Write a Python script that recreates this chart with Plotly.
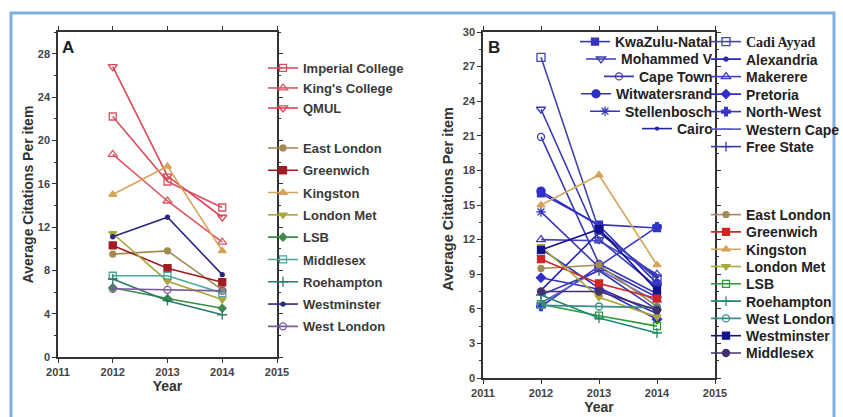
import plotly.graph_objects as go

W, H = 843, 417

# ---------------- data ----------------
years = [2012, 2013, 2014]

# Panel A (UK, incl. Russell group)
imperial_college = [22.2, 16.2, 13.8]
kings_college = [18.7, 14.4, 10.6]
qmul = [26.8, 16.7, 12.9]
east_london = [9.5, 9.8, 6.2]
greenwich = [10.3, 8.2, 6.9]
kingston = [15.0, 17.6, 9.8]
london_met = [11.4, 7.0, 5.3]
lsb = [6.4, 5.4, 4.5]
middlesex = [7.5, 7.5, 5.9]
roehampton = [7.2, 5.2, 3.9]
westminster = [11.1, 12.9, 7.6]
west_london = [6.3, 6.2, 6.1]

# Panel B (African universities)
kwazulu_natal = [16.0, 13.3, 13.0]
mohammed_v = [23.3, 12.0, 7.9]
cape_town = [20.9, 9.9, 7.3]
witwatersrand = [16.2, 13.2, 8.2]
stellenbosch = [14.4, 9.6, 7.0]
cairo = [7.6, 12.6, 8.8]
cadi_ayyad = [27.8, 12.8, 8.6]
alexandria = [11.2, 7.8, 5.6]
makerere = [12.0, 11.9, 9.0]
pretoria = [8.7, 7.7, 5.1]
north_west = [6.2, 9.7, 13.1]
western_cape = [6.5, 9.4, 6.6]
free_state = [7.2, 9.3, 5.9]

x_ticks = [2011, 2012, 2013, 2014, 2015]
a_y_ticks = [0, 4, 8, 12, 16, 20, 24, 28]
b_y_ticks = [0, 3, 6, 9, 12, 15, 18, 21, 24, 27, 30]

# ---------------- styles ----------------
# (name, values, color, symbol, size)
panel_a_top = [
    ("Imperial College", imperial_college, "#D9505E", "square-open", 7),
    ("King's College", kings_college, "#DD5560", "triangle-up-open", 8),
    ("QMUL", qmul, "#DD4455", "triangle-down-open", 8),
]
panel_a_low = [
    ("East London", east_london, "#A38A55", "circle", 6),
    ("Greenwich", greenwich, "#A01C22", "square", 7),
    ("Kingston", kingston, "#D6A458", "triangle-up", 7),
    ("London Met", london_met, "#A8A83C", "triangle-down", 7),
    ("LSB", lsb, "#3C8C48", "diamond", 6),
    ("Middlesex", middlesex, "#4AA898", "square-open", 7),
    ("Roehampton", roehampton, "#2A7A6A", "cross-thin-open", 7),
    ("Westminster", westminster, "#2A2A80", "circle", 4),
    ("West London", west_london, "#7E5A9E", "circle-open", 7),
]
panel_b_inner = [
    ("KwaZulu-Natal", kwazulu_natal, "#3535C0", "square", 7),
    ("Mohammed V", mohammed_v, "#3A3AB5", "triangle-down-open", 8),
    ("Cape Town", cape_town, "#3A3AB0", "circle-open", 7),
    ("Witwatersrand", witwatersrand, "#2E2EC8", "circle", 8),
    ("Stellenbosch", stellenbosch, "#3838B8", "asterisk-open", 8),
    ("Cairo", cairo, "#2525A8", "circle", 3),
]
panel_b_outer = [
    ("Cadi Ayyad", cadi_ayyad, "#4444B0", "square-open", 8),
    ("Alexandria", alexandria, "#2A2AB0", "circle", 4),
    ("Makerere", makerere, "#4040C0", "triangle-up-open", 8),
    ("Pretoria", pretoria, "#3030C8", "diamond", 7),
    ("North-West", north_west, "#3535C8", "cross", 7),
    ("Western Cape", western_cape, "#6060C8", "line-ew-open", 7),
    ("Free State", free_state, "#3A3AA8", "cross-thin-open", 7),
]
panel_b_uk = [
    ("East London", east_london, "#A38A55", "circle", 6),
    ("Greenwich", greenwich, "#D02525", "square", 7),
    ("Kingston", kingston, "#D6A458", "triangle-up", 7),
    ("London Met", london_met, "#A8A83C", "triangle-down", 7),
    ("LSB", lsb, "#2E9A3A", "square-open", 7),
    ("Roehampton", roehampton, "#208870", "cross-thin-open", 7),
    ("West London", west_london, "#3A8A8A", "circle-open", 7),
    ("Westminster", westminster, "#12128E", "square", 7),
    ("Middlesex", middlesex, "#43306E", "circle", 7),
]

FONT = "Liberation Sans, Arial, sans-serif"
fig = go.Figure()
layout_legends = {}
leg_count = [0]


def new_legend(xpx, ypx, anchor, font):
    leg_count[0] += 1
    key = "legend" if leg_count[0] == 1 else f"legend{leg_count[0]}"
    layout_legends[key] = dict(
        x=xpx / W, y=1 - ypx / H, xanchor=anchor, yanchor="middle",
        bgcolor="rgba(0,0,0,0)", borderwidth=0, font=font, itemwidth=30,
    )
    return key


def add_group(group, xaxis, yaxis, xpx, y0px, step, anchor, font):
    for i, (name, vals, color, symbol, size) in enumerate(group):
        key = new_legend(xpx, y0px + i * step, anchor, font)
        fig.add_trace(go.Scatter(
            x=years, y=vals, name=name, mode="lines+markers",
            xaxis=xaxis, yaxis=yaxis, legend=key,
            line=dict(color=color, width=1.6),
            marker=dict(color=color, symbol=symbol, size=size,
                        line=dict(color=color, width=1.3)),
        ))


font_a = dict(family=FONT, size=13, color="#3a3a3a", weight="bold")
font_b = dict(family=FONT, size=14, color="#222222", weight="bold")

add_group(panel_a_top, "x", "y", 263, 68, 20, "left", font_a)
add_group(panel_a_low, "x", "y", 263, 148, 22.3, "left", font_a)
add_group(panel_b_inner, "x2", "y2", 718, 42, 17.4, "right", font_b)
add_group(panel_b_outer[:1], "x2", "y2", 706, 42, 17.5, "left",
          dict(family="Liberation Serif, Times New Roman, serif", size=14, color="#222222", weight="bold"))
add_group(panel_b_outer[1:], "x2", "y2", 706, 59.5, 17.5, "left", font_b)
add_group(panel_b_uk, "x2", "y2", 706, 215, 17.3, "left", font_b)

tickfont = dict(family=FONT, size=11, color="#444444", weight="bold")
title_font = dict(family=FONT, size=14, color="#333333", weight="bold")
axis_common = dict(
    showline=True, linecolor="#333333", linewidth=1.5, mirror="ticks",
    ticks="outside", ticklen=4, tickwidth=1.2, tickcolor="#333333",
    showgrid=False, zeroline=False, tickfont=tickfont,
)

fig.update_layout(
    width=W, height=H,
    margin=dict(l=0, r=0, t=0, b=0, autoexpand=False),
    paper_bgcolor="white", plot_bgcolor="white",
    showlegend=True,
    xaxis=dict(domain=[58 / W, 277 / W], range=[2011, 2015], tickvals=x_ticks,
               title=dict(text="Year", font=title_font, standoff=2), anchor="y", **axis_common),
    yaxis=dict(domain=[1 - 357 / H, 1 - 32 / H], range=[0, 30], tickvals=a_y_ticks,
               minor=dict(ticks="outside", ticklen=2.5, dtick=2, tickcolor="#333333"),
               title=dict(text="Average Citations Per item", font=title_font, standoff=1),
               anchor="x", **axis_common),
    xaxis2=dict(domain=[483 / W, 715 / W], range=[2011, 2015], tickvals=x_ticks,
                title=dict(text="Year", font=title_font, standoff=2), anchor="y2", **axis_common),
    yaxis2=dict(domain=[1 - 378 / H, 1 - 32 / H], range=[0, 30], tickvals=b_y_ticks,
                minor=dict(ticks="outside", ticklen=2.5, dtick=1.5, tickcolor="#333333"),
                anchor="x2", **axis_common),
    annotations=[
        dict(text="A", x=60 / W, y=1 - 36 / H, xref="paper", yref="paper", xanchor="left",
             yanchor="top", showarrow=False, font=dict(family=FONT, size=17, color="#222", weight="bold")),
        dict(text="B", x=486 / W, y=1 - 36 / H, xref="paper", yref="paper", xanchor="left",
             yanchor="top", showarrow=False, font=dict(family=FONT, size=17, color="#222", weight="bold")),
        dict(text="Average Citations Per item", x=448 / W, y=1 - 199 / H, xref="paper", yref="paper",
             xanchor="center", yanchor="middle", textangle=-90, showarrow=False,
             font=dict(family=FONT, size=14.5, color="#333333", weight="bold")),
    ],
    shapes=[
        dict(type="rect", xref="paper", yref="paper", x0=11 / W, x1=834 / W, y0=-0.05, y1=1 - 13 / H,
             line=dict(color="#7FAEDF", width=3), fillcolor="rgba(0,0,0,0)", layer="below"),
    ],
    **layout_legends,
)

fig.write_html("out.html")
